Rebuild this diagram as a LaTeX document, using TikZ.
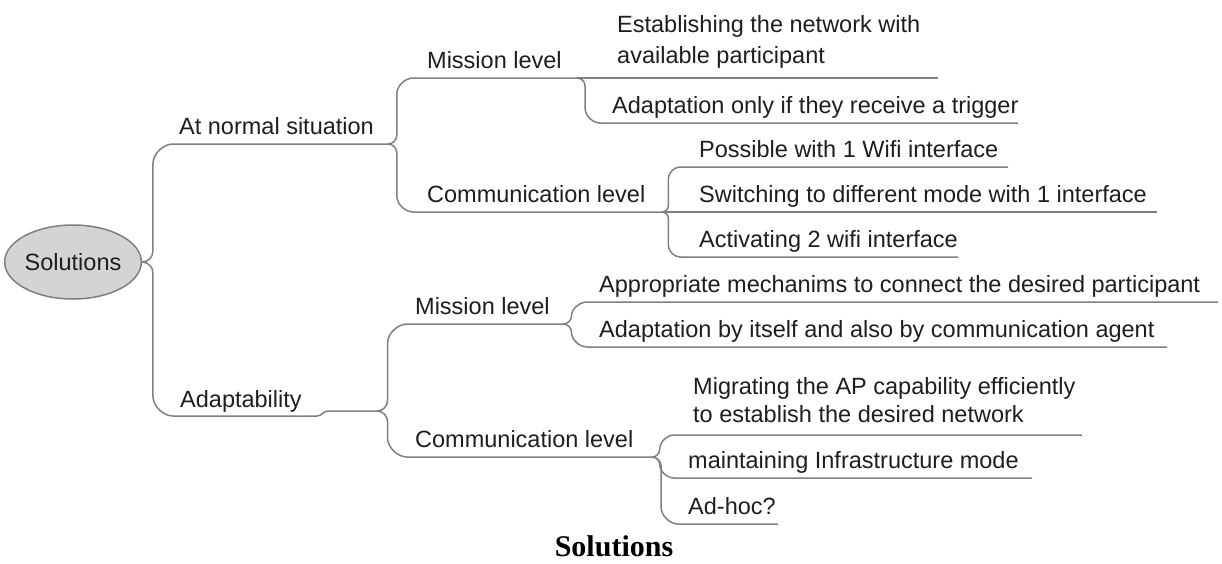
\documentclass[tikz,border=0pt]{standalone}
\usepackage{fontspec}
\setmainfont{Liberation Sans}
\newfontfamily\captionfont{Liberation Serif}
\usetikzlibrary{calc,shapes.geometric}
\definecolor{textgray}{HTML}{1E1E1E}
\definecolor{linegray}{HTML}{808080}
\definecolor{rootfill}{HTML}{D4D4D4}
\definecolor{rootborder}{HTML}{7F7F7F}
\tikzset{
  branch/.style={draw=linegray, line width=1.5pt},
  topic/.style={anchor=base west, inner sep=0pt, text=textgray, font=\fontsize{23.5}{29}\selectfont},
  topictwo/.style={anchor=north west, inner sep=0pt, align=left, text=textgray},
  rootnode/.style={ellipse, draw=rootborder, fill=rootfill, line width=1.5pt,
    minimum width=126pt, minimum height=74pt, inner sep=0pt,
    font=\fontsize{23.5}{28}\selectfont, text=textgray},
  captionnode/.style={anchor=base, inner sep=0pt, font=\captionfont\bfseries\fontsize{30}{34}\selectfont},
}
% parent point, child line start, child line end
\newcommand\twig[3]{%
  \draw[branch] let \p1=(#1), \p2=(#2),
     \n1={ifthenelse(\y2>\y1,1,-1)},
     \n6={min(\x2-\x1,abs(\y2-\y1))},
     \n2={0.35*(\x2-\x1)}, \n3={0.65*(\x2-\x1)},
     \n4={0.35*\n6}, \n5={0.65*\n6} in
   (\p1) .. controls ({\x1+0.552*\n2*1pt},{\y1}) and ({\x1+\n2*1pt},{\y1+\n1*0.448*\n4*1pt}) ..
   ({\x1+\n2*1pt},{\y1+\n1*\n4*1pt}) -- ({\x1+\n2*1pt},{\y2-\n1*\n5*1pt}) ..
   controls ({\x1+\n2*1pt},{\y2-\n1*0.448*\n5*1pt}) and ({\x2-0.448*\n3*1pt},{\y2}) .. (\p2) -- (#3);
}
\begin{document}
\begin{tikzpicture}[x=1pt,y=-1pt]
\useasboundingbox (0,0) rectangle (1222,563);

% root
\node[rootnode] (root) at (73,262) {Solutions};

% level 1
\coordinate (ans-s) at (173,144); \coordinate (ans-e) at (388,144);
\node[topic] (ans) at (179,134.5) {At normal situation};
\coordinate (ada-s) at (173,416); \coordinate (ada-e) at (317,416);
\coordinate (ada-m) at (328,411); \coordinate (ada-j) at (377,411);
\node[topic] (ada) at (180,407) {Adaptability};

% level 2 (upper)
\coordinate (misA-s) at (413,78); \coordinate (misA-e) at (577,78);
\node[topic] (misA) at (427,68.5) {Mission level};
\coordinate (comA-s) at (413,212); \coordinate (comA-e) at (662,212);
\node[topic] (comA) at (427,202.5) {Communication level};

% level 3 under upper mission
\coordinate (est-s) at (600,78); \coordinate (est-e) at (938,78);
\node[topictwo, font=\fontsize{23.5}{31}\selectfont] (est) at (617,15) {Establishing the network with\\available participant};
\coordinate (adpA-s) at (600,123); \coordinate (adpA-e) at (1018,123);
\node[topic] (adpA) at (612,113.5) {Adaptation only if they receive a trigger};

% level 3 under upper communication
\coordinate (pos-s) at (680,167); \coordinate (pos-e) at (1008,167);
\node[topic] (pos) at (699,157.5) {Possible with 1 Wifi interface};
\coordinate (swi-s) at (680,212); \coordinate (swi-e) at (1157,212);
\node[topic] (swi) at (699,202.5) {Switching to different mode with 1 interface};
\coordinate (act-s) at (680,257); \coordinate (act-e) at (958,257);
\node[topic] (act) at (699,247.5) {Activating 2 wifi interface};

% level 2 (lower)
\coordinate (misB-s) at (407,324); \coordinate (misB-e) at (563,324);
\node[topic] (misB) at (415,314.5) {Mission level};
\coordinate (comB-s) at (407,457); \coordinate (comB-e) at (652,457);
\node[topic] (comB) at (415,447.5) {Communication level};

% level 3 under lower mission
\coordinate (app-s) at (587,302); \coordinate (app-e) at (1218,302);
\node[topic] (app) at (599,292.5) {Appropriate mechanims to connect the desired participant};
\coordinate (adpB-s) at (587,347); \coordinate (adpB-e) at (1167,347);
\node[topic] (adpB) at (599,337.5) {Adaptation by itself and also by communication agent};

% level 3 under lower communication
\coordinate (mig-s) at (674,435); \coordinate (mig-e) at (1082,435);
\node[topictwo, font=\fontsize{23.5}{28}\selectfont] (mig) at (693,377) {Migrating the AP capability efficiently\\to establish the desired network};
\coordinate (mai-s) at (674,478); \coordinate (mai-e) at (1032,478);
\node[topic] (mai) at (688,468.5) {maintaining Infrastructure mode};
\coordinate (adh-s) at (678,524); \coordinate (adh-e) at (778,524);
\node[topic] (adh) at (688,514.5) {Ad-hoc?};

% connectors
\twig{root.east}{ans-s}{ans-e}
\twig{root.east}{ada-s}{ada-e}
\draw[branch] (ada-e) to[out=0,in=180] (ada-m) -- (ada-j);
\twig{ans-e}{misA-s}{misA-e}
\twig{ans-e}{comA-s}{comA-e}
\twig{misA-e}{est-s}{est-e}
\twig{misA-e}{adpA-s}{adpA-e}
\twig{comA-e}{pos-s}{pos-e}
\twig{comA-e}{swi-s}{swi-e}
\twig{comA-e}{act-s}{act-e}
\twig{ada-j}{misB-s}{misB-e}
\twig{ada-j}{comB-s}{comB-e}
\twig{misB-e}{app-s}{app-e}
\twig{misB-e}{adpB-s}{adpB-e}
\twig{comB-e}{mig-s}{mig-e}
\twig{comB-e}{mai-s}{mai-e}
\twig{comB-e}{adh-s}{adh-e}

% caption
\node[captionnode] (cap) at (614,556) {Solutions};
\end{tikzpicture}
\end{document}
